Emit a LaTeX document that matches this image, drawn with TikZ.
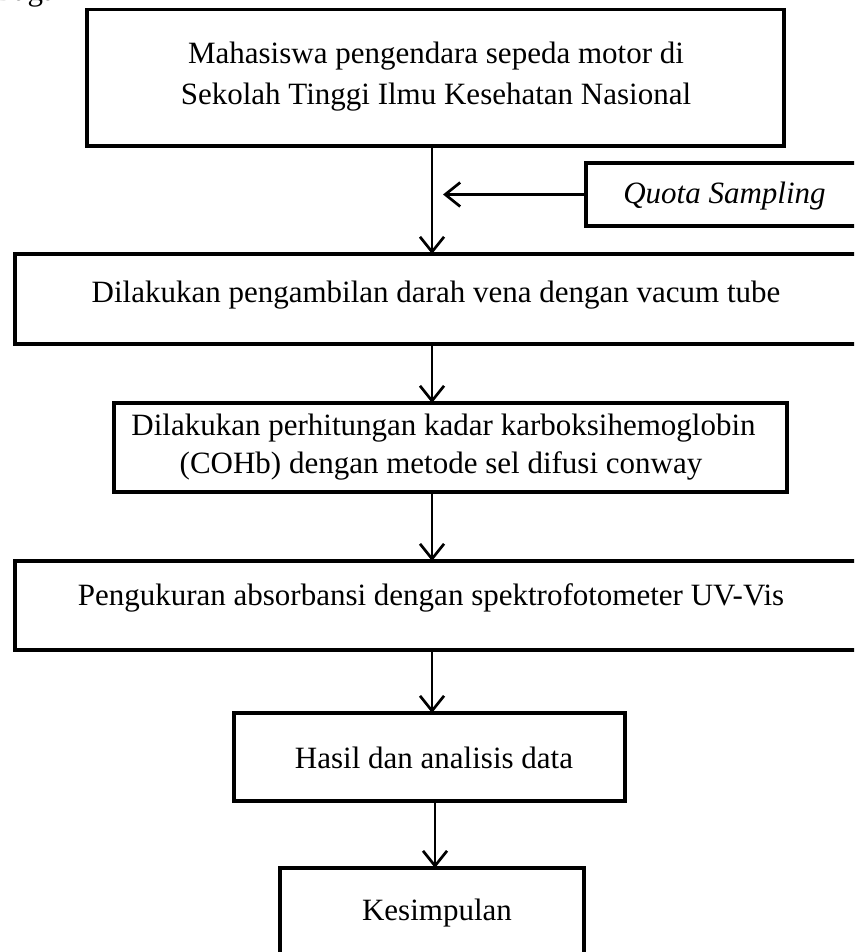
\documentclass[tikz,border=0pt]{standalone}
\usepackage{fontspec}
\setmainfont{Liberation Serif}
\usetikzlibrary{arrows.meta}
\begin{document}
\begin{tikzpicture}[x=1pt,y=-1pt,
  box/.style={draw=black,line width=3.6pt,rectangle,inner sep=0pt,outer sep=0pt,fill=none},
  txt/.style={anchor=base,inner sep=0pt,font=\fontsize{31}{38}\selectfont},
  arr/.style={line width=2.7pt,-{Straight Barb[length=15pt,width=24pt]}}]
\useasboundingbox (0,0) rectangle (854,952);
\clip (0,0) rectangle (854,952);
% boxes
\node[box,minimum width=697pt,minimum height=136.5pt] (b1) at (435.5,77.75) {};
\node[box,minimum width=294pt,minimum height=63pt] (q) at (733,194.5) {};
\node[box,minimum width=865pt,minimum height=90pt] (b2) at (447.5,299) {};
\node[box,minimum width=673pt,minimum height=89pt] (b3) at (450.5,447.5) {};
\node[box,minimum width=865pt,minimum height=89pt] (b4) at (447.5,605.5) {};
\node[box,minimum width=391pt,minimum height=88pt] (b5) at (429.5,757) {};
\node[box,minimum width=304pt,minimum height=112pt] (b6) at (432,924) {};
% texts
\node[txt,anchor=base west] (bagan) at (-7,1) {Bagan};
\node[txt] (t1a) at (436,64) {Mahasiswa pengendara sepeda motor di};
\node[txt] (t1b) at (436,105) {Sekolah Tinggi Ilmu Kesehatan Nasional};
\node[txt] (tq) at (724.5,204) {\itshape Quota Sampling};
\node[txt] (t2) at (436,302) {Dilakukan pengambilan darah vena dengan vacum tube};
\node[txt] (t3a) at (443.5,435) {Dilakukan perhitungan kadar karboksihemoglobin};
\node[txt] (t3b) at (441,473) {(COHb) dengan metode sel difusi conway};
\node[txt] (t4) at (431,605) {Pengukuran absorbansi dengan spektrofotometer UV-Vis};
\node[txt] (t5) at (434,768) {Hasil dan analisis data};
\node[txt] (t6) at (437,920) {Kesimpulan};
% connectors
\coordinate (ax) at (432,0);
\coordinate (ax2) at (435,0);
\coordinate (qe) at (443,194.5);
\draw[arr] (b1.south -| ax) -- (b2.north -| ax);
\draw[arr] (q.west) -- (qe);
\draw[arr] (b2.south -| ax) -- (b3.north -| ax);
\draw[arr] (b3.south -| ax) -- (b4.north -| ax);
\draw[arr] (b4.south -| ax) -- (b5.north -| ax);
\draw[arr] (b5.south -| ax2) -- (b6.north -| ax2);
\end{tikzpicture}
\end{document}
